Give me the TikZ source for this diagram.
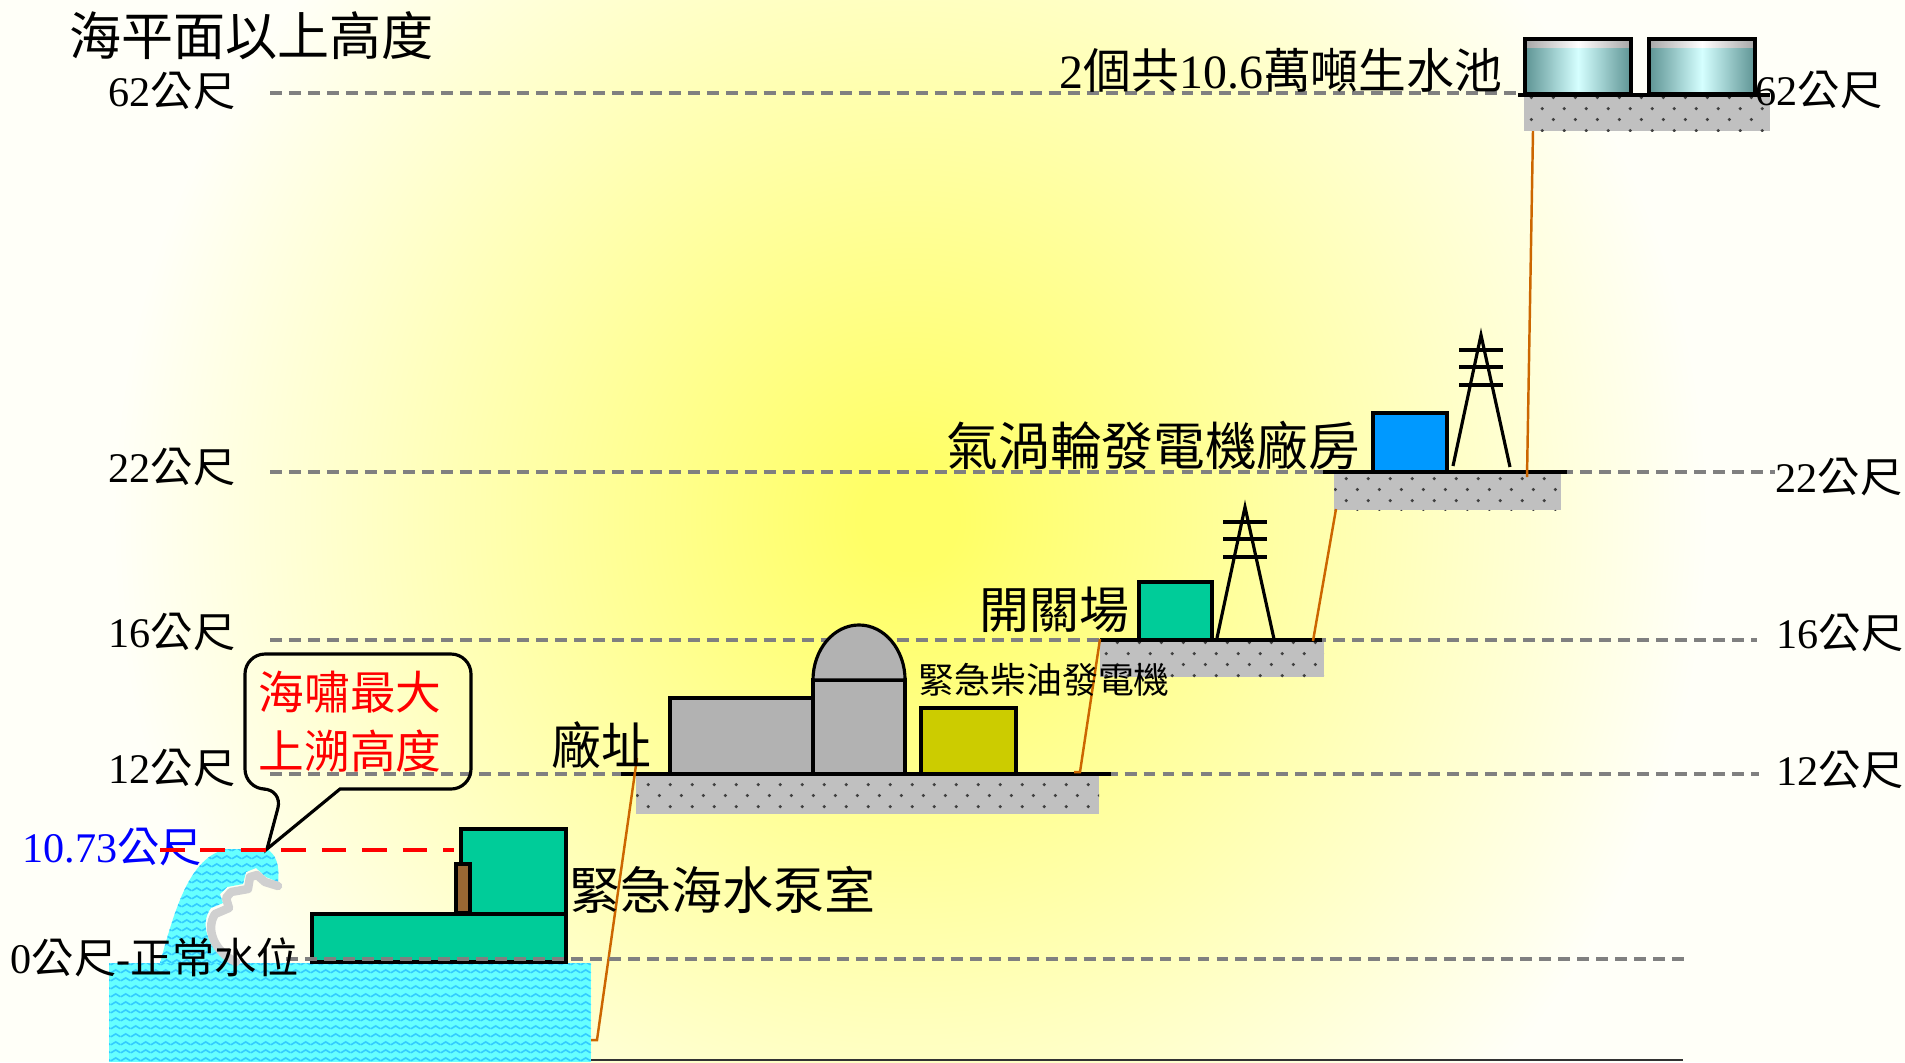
\documentclass[tikz,border=0pt]{standalone}
\usepackage{fontspec}
\setmainfont{Liberation Serif}
\newfontfamily\cjk{Noto Sans CJK TC}
\usetikzlibrary{patterns}

\definecolor{bgc}{HTML}{FFFFF8}
\definecolor{sunc}{HTML}{FFFF66}
\definecolor{levelgray}{HTML}{808080}
\definecolor{basegray}{HTML}{C0C0C0}
\definecolor{dotgray}{HTML}{404040}
\definecolor{pumpc}{HTML}{00CC99}
\definecolor{doorc}{HTML}{996633}
\definecolor{plantc}{HTML}{B2B2B2}
\definecolor{dieselc}{HTML}{CCCC00}
\definecolor{gtc}{HTML}{0099FF}
\definecolor{rampc}{HTML}{CC6600}
\definecolor{waterc}{HTML}{66FFFF}
\definecolor{ripplec}{HTML}{33CCFF}
\definecolor{foamc}{HTML}{D0D0D0}
\definecolor{tankdk}{HTML}{5E9494}
\definecolor{tanklt}{HTML}{D5FFFF}
\definecolor{levelblue}{HTML}{0000FF}

% yellow glow behind everything
\pgfdeclareradialshading{glow}{\pgfpoint{0bp}{0bp}}%
  {color(0bp)=(sunc); color(3bp)=(sunc); color(50bp)=(bgc)}

% dotted fill of the terraces
\pgfdeclarepatternformonly{grit}{\pgfqpoint{0pt}{0pt}}{\pgfqpoint{6.2pt}{6.2pt}}{\pgfqpoint{6.2pt}{6.2pt}}{%
  \pgfpathcircle{\pgfqpoint{1.55pt}{1.55pt}}{0.5pt}%
  \pgfpathcircle{\pgfqpoint{4.65pt}{4.65pt}}{0.5pt}%
  \pgfusepath{fill}}

% small waves of the sea
\pgfdeclarepatternformonly{ripples}{\pgfqpoint{0pt}{0pt}}{\pgfqpoint{2.9pt}{2.3pt}}{\pgfqpoint{2.9pt}{2.3pt}}{%
  \pgfsetlinewidth{0.5pt}%
  \pgfpathmoveto{\pgfqpoint{0pt}{0.7pt}}%
  \pgfpathcurveto{\pgfqpoint{0.6pt}{0.7pt}}{\pgfqpoint{0.85pt}{1.6pt}}{\pgfqpoint{1.45pt}{1.6pt}}%
  \pgfpathcurveto{\pgfqpoint{2.05pt}{1.6pt}}{\pgfqpoint{2.3pt}{0.7pt}}{\pgfqpoint{2.9pt}{0.7pt}}%
  \pgfusepath{stroke}}

\newcommand\meter[1]{#1{\cjk 公尺}}

\tikzset{
  level/.style={draw=levelgray,line width=0.9pt,dash pattern=on 3.4pt off 2pt},
  ground/.style={fill=basegray,postaction={pattern=grit,pattern color=dotgray}},
  deck/.style={draw=black,line width=1.3pt},
  block/.style={draw=black,line width=0.9pt},
  tower/.style={draw=black,line width=0.9pt},
  ramp/.style={draw=rampc,line width=0.7pt},
  sea/.style={fill=waterc,postaction={pattern=ripples,pattern color=ripplec}},
  foam/.style={draw=foamc,line width=2.4pt,line join=round,line cap=round},
  surge/.style={draw=red,line width=1.4pt,dash pattern=on 7pt off 4.5pt},
  callout/.style={draw=black,line width=0.9pt},
  tag/.style={inner sep=0pt,font=\fontsize{12pt}{14pt}\selectfont},
  caption/.style={inner sep=0pt,font=\fontsize{#1}{18pt}\selectfont\cjk},
  caption/.default=14.6pt,
  warn/.style={inner sep=0pt,align=center,text=red,
               font=\fontsize{13pt}{16.8pt}\selectfont\cjk},
}

\begin{document}
\begin{tikzpicture}[x=0.01cm,y=-0.01cm]
    \useasboundingbox (0,0) rectangle (1905,1062);
    % Backdrop
    \fill[bgc] (0,0) rectangle (1905,1062);
    \begin{scope}
        \clip (0,0) rectangle (1905,1062);
        \begin{pgfscope}
            \pgftransformshift{\pgfpointxy{910}{520}}
            \pgftransformxscale{4.52}
            \pgftransformyscale{4.63}
            \pgflowlevelsynccm
            \pgfuseshading{glow}
        \end{pgfscope}
    \end{scope}

    % Height lines
    \draw[level] (270,93)  -- (1518,93);
    \draw[level] (270,472) -- (1775,472);
    \draw[level] (270,640) -- (1757,640);
    \draw[level] (270,774) -- (1759,774);

    % Terraces
    \path[ground] (636,776)  rectangle (1099,814);
    \path[ground] (1100,642) rectangle (1324,677);
    \path[ground] (1334,474) rectangle (1561,510);
    \path[ground] (1524,95)  rectangle (1770,131);

    % Plant site buildings
    \draw[block,fill=plantc] (670,698) rectangle (813,774);
    \draw[block,fill=plantc] (813,680) rectangle (905,774);
    \draw[block,fill=plantc] (813,680)
        arc[start angle=180,end angle=0,x radius=0.46cm,y radius=0.55cm] -- cycle;
    \draw[block,fill=dieselc] (921,708) rectangle (1016,774);

    % Switchyard and gas turbine building
    \draw[block,fill=pumpc] (1139,582) rectangle (1212,640);
    \draw[block,fill=gtc]   (1373,413) rectangle (1447,472);
    \foreach \tx/\ty in {1245/507,1481/335} {
        \draw[tower] (\tx-28,\ty+131) -- (\tx,\ty) -- (\tx+29,\ty+132);
        \foreach \dy in {15,32,50}
            \draw[tower] (\tx-22,\ty+\dy) -- (\tx+22,\ty+\dy);
    }

    % Raw water tanks
    \foreach \tx in {1525,1649} {
        \shade[left color=tankdk,right color=tankdk,middle color=tanklt]
            (\tx,39) rectangle ++(106,55);
        \shade[left color=gray!70,right color=gray!70,middle color=white]
            (\tx,39) rectangle ++(106,8);
        \draw[block] (\tx,39) rectangle ++(106,55);
    }

    % Terrace tops
    \draw[deck] (621,774)  -- (1111,774);
    \draw[deck] (1100,640) -- (1322,640);
    \draw[deck] (1323,472) -- (1567,472);
    \draw[deck] (1518,95)  -- (1770,95);

    % Access road
    \draw[ramp] (591,1040) -- (597,1040) -- (637,758);
    \draw[ramp] (1074,772) -- (1080,772) -- (1100,639);
    \draw[ramp] (1313,641) -- (1336,509);
    \draw[ramp] (1527,477) -- (1533,131);

    % Sea and tsunami
    \path[sea] (109,963) rectangle (591,1062);
    \path[sea] (160,963) .. controls (176,905) and (190,858) .. (226,849)
        -- (266,849) .. controls (276,853) and (280,866) .. (278,882)
        -- (266,877) -- (256,868) -- (246,872) -- (243,884) -- (227,887)
        -- (220,894) -- (223,903) -- (211,908)
        .. controls (198,925) and (210,952) .. (232,963) -- cycle;
    \draw[foam] (278,886) -- (265,882) -- (257,875) -- (250,877) -- (248,889)
        -- (231,892) -- (226,898) -- (229,908) -- (215,914)
        .. controls (205,930) and (215,952) .. (236,962);

    % Emergency seawater pump house
    \draw[block,fill=pumpc] (312,914) rectangle (566,962);
    \draw[block,fill=pumpc] (461,829) rectangle (566,914);
    \draw[block,fill=doorc] (456,864) rectangle (470,913);

    % Normal sea level and ground line
    \draw[level] (286,959) -- (1685,959);
    \draw[line width=0.8pt,black!80] (591,1060) -- (1683,1060);

    % Callout
    \draw[callout] (283,789) -- (267,849) -- (340,789)
        [rounded corners=0.2cm] -- (471,789) -- (471,654)
        -- (245,654) -- (245,789) -- cycle;
    \node[warn] (surgenote) at (350,722) {海嘯最大\\上溯高度};

    % Height labels
    \node[tag,anchor=east] (left62) at (236,91)  {\meter{62}};
    \node[tag,anchor=east] (left22) at (236,467) {\meter{22}};
    \node[tag,anchor=east] (left16) at (236,632) {\meter{16}};
    \node[tag,anchor=east] (left12) at (236,768) {\meter{12}};
    \node[tag,anchor=west,text=levelblue] (surgetag) at (22,847) {\meter{10.73}};
    \node[tag,anchor=west] (zerotag) at (10,957) {\meter{0}-{\cjk 正常水位}};
    \node[tag,anchor=west] (right62) at (1755,90)  {\meter{62}};
    \node[tag,anchor=west] (right22) at (1775,477) {\meter{22}};
    \node[tag,anchor=west] (right16) at (1776,633) {\meter{16}};
    \node[tag,anchor=west] (right12) at (1776,770) {\meter{12}};

    % Maximum run-up
    \draw[surge] (160,850) -- (454,850);

    % Facility names
    \node[caption=14.8pt,anchor=west] (heading) at (69,36) {海平面以上高度};
    \node[caption=13.6pt,anchor=east] (tanklabel) at (1503,70)
        {{\rmfamily 2}個共{\rmfamily 10.6}萬噸生水池};
    \node[caption=14.7pt,anchor=east] (gtlabel) at (1361,445) {氣渦輪發電機廠房};
    \node[caption=14.2pt,anchor=east] (swlabel) at (1130,610) {開關場};
    \node[caption=10.2pt,anchor=west] (dglabel) at (918,680) {緊急柴油發電機};
    \node[caption=14.2pt,anchor=west] (sitelabel) at (551,745) {廠址};
    \node[caption=14.5pt,anchor=west] (pumplabel) at (569,890) {緊急海水泵室};
\end{tikzpicture}
\end{document}
